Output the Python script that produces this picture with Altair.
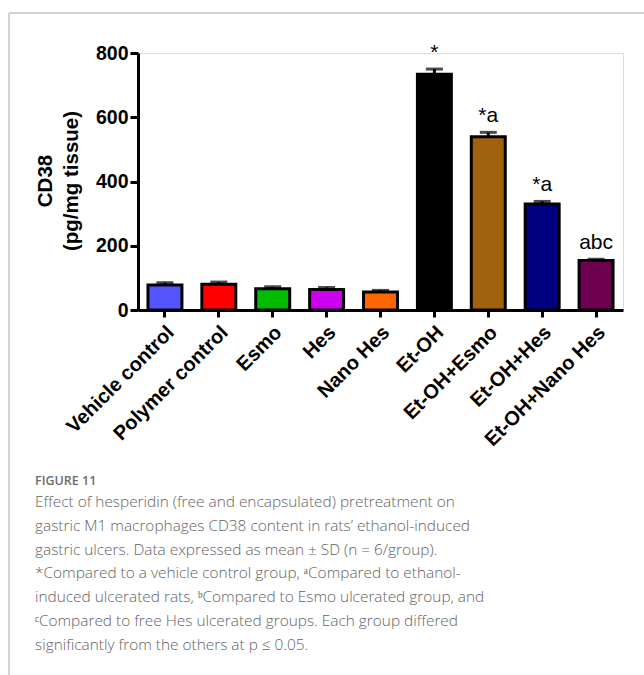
import altair as alt
import pandas as pd

# Group names, means, standard deviations and significance marks
groups = ["Vehicle control", "Polymer control", "Esmo", "Hes", "Nano Hes",
          "Et-OH", "Et-OH+Esmo", "Et-OH+Hes", "Et-OH+Nano Hes"]
means = [78, 80, 66, 64, 56, 734, 539, 330, 154]
sds = [7, 7, 6, 6, 5, 16, 14, 8, 4]
marks = ["", "", "", "", "", "*", "*a", "*a", "abc"]
colors = ["#5555FF", "#FF0000", "#00BB00", "#CC00EE", "#FF6600",
          "#000000", "#A0620F", "#000080", "#6E0050"]

caption_head = "FIGURE 11"
caption_lines = [
    "Effect of hesperidin (free and encapsulated) pretreatment on",
    "gastric M1 macrophages CD38 content in rats\u2019 ethanol-induced",
    "gastric ulcers. Data expressed as mean \u00b1 SD (n = 6/group).",
    "*Compared to a vehicle control group, \u1d43Compared to ethanol-",
    "induced ulcerated rats, \u1d47Compared to Esmo ulcerated group, and",
    "\u1d9cCompared to free Hes ulcerated groups. Each group differed",
    "significantly from the others at p \u2264 0.05.",
]

df = pd.DataFrame({"group": groups, "mean": means, "sd": sds, "mark": marks})
df["upper"] = df["mean"] + df["sd"]

W, H = 485, 257
FONT = "Liberation Sans"

x = alt.X("group:N", sort=groups, title=None,
          scale=alt.Scale(paddingInner=0.37, paddingOuter=0.185),
          axis=alt.Axis(labelAngle=-45, labelAlign="right", labelBaseline="middle",
                        labelFont=FONT, labelFontWeight="bold", labelFontSize=20,
                        labelColor="black", labelPadding=12, labelOffset=6,
                        tickSize=7, tickWidth=3,
                        tickColor="black", domainColor="black", domainWidth=3))
y_scale = alt.Scale(domain=[0, 800], nice=False)

base = alt.Chart(df)

bars = base.mark_bar(stroke="black", strokeWidth=3).encode(
    x=x,
    y=alt.Y("mean:Q", scale=y_scale, title=None,
            axis=alt.Axis(values=[0, 200, 400, 600, 800], labelFont=FONT,
                          labelFontWeight="bold", labelFontSize=19.5, labelColor="black",
                          labelPadding=2, tickSize=8, tickWidth=3, tickColor="black",
                          domainColor="black", domainWidth=3, grid=False)),
    color=alt.Color("group:N", sort=groups,
                    scale=alt.Scale(domain=groups, range=colors), legend=None),
)

err = base.mark_rule(color="black", strokeWidth=3).encode(
    x=alt.X("group:N", sort=groups), y=alt.Y("mean:Q", scale=y_scale), y2="upper:Q")

caps = base.mark_tick(color="black", thickness=3, size=17).encode(
    x=alt.X("group:N", sort=groups), y=alt.Y("upper:Q", scale=y_scale))

labels = base.mark_text(font=FONT, fontSize=21, color="black", baseline="alphabetic",
                        dy=-10).encode(
    x=alt.X("group:N", sort=groups), y=alt.Y("upper:Q", scale=y_scale), text="mark:N")

# Two-line y-axis title
ytitle = []
for txt, px in [("CD38", -92), ("(pg/mg tissue)", -66)]:
    ytitle.append(alt.Chart(alt.Data(values=[{}])).mark_text(
        text=txt, font=FONT, fontSize=20.5, fontWeight="bold", angle=270,
        align="center", baseline="middle", color="black").encode(
        x=alt.value(px), y=alt.value(128)))

# Figure frame lines
frame = [
    alt.Chart(alt.Data(values=[{}])).mark_rule(color="#C4C4C4", strokeWidth=1.5).encode(
        x=alt.value(-129), x2=alt.value(506), y=alt.value(-40)),
    alt.Chart(alt.Data(values=[{}])).mark_rule(color="#C4C4C4", strokeWidth=1.5).encode(
        x=alt.value(-129), y=alt.value(-40), y2=alt.value(622)),
]

# Caption
caption = [alt.Chart(alt.Data(values=[{}])).mark_text(
    text=caption_head, font="Open Sans", fontSize=12.5, fontWeight=600, color="#6b6b6b",
    align="left", baseline="alphabetic").encode(x=alt.value(-103), y=alt.value(432))]
for i, line in enumerate(caption_lines):
    caption.append(alt.Chart(alt.Data(values=[{}])).mark_text(
        text=line, font="Open Sans", fontSize=15.4, fontWeight=300, color="#636363",
        align="left", baseline="alphabetic").encode(
        x=alt.value(-103), y=alt.value(454 + i * 23.8)))

chart = alt.layer(bars, err, caps, labels, *ytitle, *frame, *caption).properties(
    width=W, height=H,
    autosize=alt.AutoSizeParams(type="none"),
    padding={"left": 138, "top": 53, "right": 21, "bottom": 365},
).configure_view(stroke=None).configure(background="white")

chart.save("out.html", embed_options={"renderer": "svg", "actions": False})
